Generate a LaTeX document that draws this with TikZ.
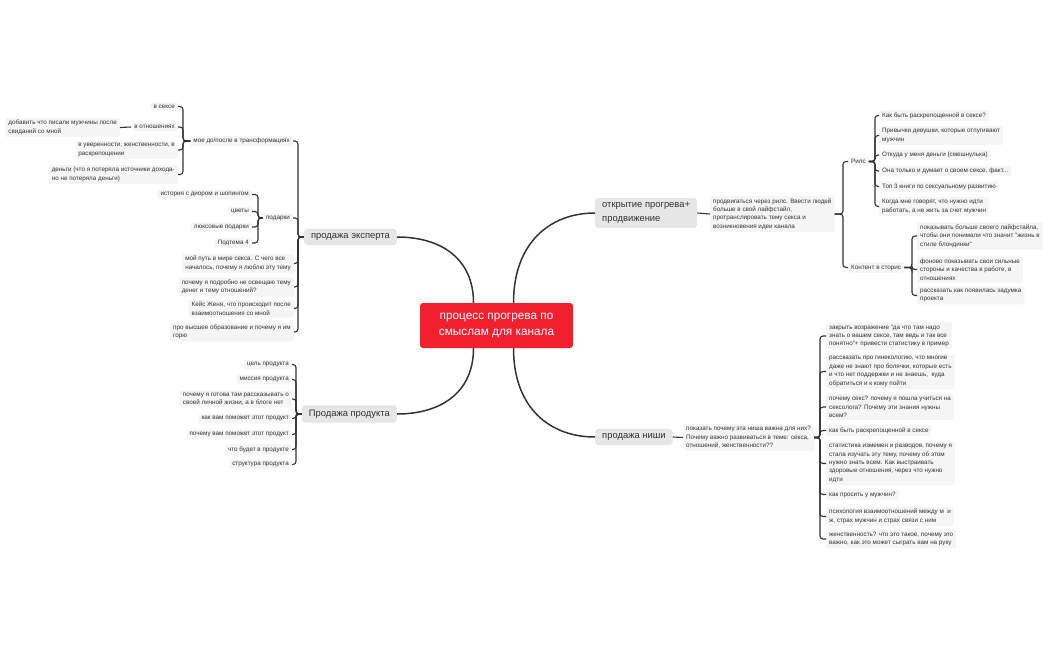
\documentclass[tikz,border=0pt]{standalone}
\usepackage{fontspec}
\setmainfont{Liberation Sans}
\usetikzlibrary{calc}
\definecolor{txt}{HTML}{333333}
\definecolor{lnc}{HTML}{333333}
\definecolor{sfill}{HTML}{F5F5F5}
\definecolor{bfill}{HTML}{E6E6E6}
\definecolor{cred}{HTML}{F2202F}
\begin{document}
\begin{tikzpicture}[x=1pt,y=-1pt,
 sm/.style={fill=sfill, rounded corners=2pt, inner xsep=3pt, inner ysep=2.3pt, text=txt, font=\fontsize{6.3}{8.4}\selectfont, align=left},
 smr/.style={sm, anchor=east},
 sml/.style={sm, anchor=west},
 br/.style={fill=bfill, rounded corners=3pt, inner xsep=7pt, inner ysep=4.5pt, text=txt, font=\fontsize{9.4}{13.5}\selectfont, align=left},
 conn/.style={draw=lnc, line width=1.1pt, rounded corners=3pt},
 mainc/.style={draw=lnc, line width=1.5pt},
]
\useasboundingbox[fill=white] (0,0) rectangle (1050,650);

% central
\node[fill=cred, rounded corners=3pt, text=white, font=\fontsize{11.8}{16}\selectfont, align=center, minimum width=153pt, minimum height=45pt] (cen) at (496.5,325.5) {процесс прогрева по\\смыслам для канала};

% branches
\node[br, anchor=east] (eksp) at (397,237) {продажа эксперта};
\node[br, anchor=east] (prod) at (397,414) {Продажа продукта};
\node[br, anchor=west] (otkr) at (595,213) {открытие прогрева+\\продвижение};
\node[br, anchor=west] (nish) at (595,437) {продажа ниши};

\draw[mainc] ($(cen.north)+(-23,0)$) .. controls ($(cen.north)+(-23,-45)$) and (440,237) .. (eksp.east);
\draw[mainc] ($(cen.north)+(17,0)$) .. controls ($(cen.north)+(17,-60)$) and (550,213) .. (otkr.west);
\draw[mainc] ($(cen.south)+(-23,0)$) .. controls ($(cen.south)+(-23,45)$) and (440,414) .. (prod.east);
\draw[mainc] ($(cen.south)+(17,0)$) .. controls ($(cen.south)+(17,60)$) and (550,437) .. (nish.west);

% --- продажа эксперта
\node[smr] (mydo) at (293,141) {мое до/после в трансформациях};
\node[smr] (podar) at (293,218) {подарки};
\node[smr] (put) at (294,263.5) {мой путь в мире секса. С чего все\\началось, почему я люблю эту тему};
\node[smr] (pochemu) at (294,287) {почему я подробно не освещаю тему\\денег и тему отношений?};
\node[smr] (keis) at (294,308.5) {Кейс Женя, что происходит после\\взаимоотношения со мной};
\node[smr] (vysh) at (294,332) {про высшее образование и почему я им\\горю};
\foreach \c in {mydo,podar,put,pochemu,keis,vysh}
  \draw[conn] (eksp.west) -- (298,237) |- (\c.east);

\node[smr] (vs) at (178,106.5) {в сексе};
\node[smr] (vo) at (178,127) {в отношениях};
\node[smr] (vu) at (178,150) {в уверенности, женственности, в\\раскрепощении};
\node[smr] (den) at (178,174.5) {деньги (что я потеряла источники дохода-\\но не потеряла деньги)};
\node[smr] (dob) at (120,127.5) {добавить что писали мужчины после\\свиданий со мной};
\foreach \c in {vs,vo,vu,den}
  \draw[conn] (mydo.west) -- (183,141) |- (\c.east);
\draw[conn] (vo.west) -- (dob.east);

\node[smr] (ist) at (252,194.5) {история с диором и шопингом};
\node[smr] (cv) at (252,211.5) {цветы};
\node[smr] (lux) at (252,227) {люксовые подарки};
\node[smr] (pt4) at (252,243) {Подтема 4};
\foreach \c in {ist,cv,lux,pt4}
  \draw[conn] (podar.west) -- (258,218) |- (\c.east);

% --- Продажа продукта
\node[smr] (c1) at (292,364.5) {цель продукта};
\node[smr] (c2) at (292,379.5) {миссия продукта};
\node[smr] (c3) at (292,399) {почему я готова там рассказывать о\\своей личной жизни, а в блоге нет};
\node[smr] (c4) at (292,418.5) {как вам поможет этот продукт};
\node[smr] (c5) at (292,434.5) {почему вам поможет этот продукт};
\node[smr] (c6) at (292,449.5) {что будет в продукте};
\node[smr] (c7) at (292,464.5) {структура продукта};
\foreach \c in {c1,c2,c3,c4,c5,c6,c7}
  \draw[conn] (prod.west) -- (296,414) |- (\c.east);

% --- открытие прогрева
\node[sml] (prodv) at (710,214) {продвигаться через рилс. Ввести людей\\больше в свой лайфстайл,\\протранслировать тему секса и\\возникновения идеи канала};
\draw[conn] (otkr.east) -- (prodv.west);
\node[sml] (rils) at (848,161.5) {Рилс};
\node[sml] (stor) at (848,267.5) {Контент в сторис};
\foreach \c in {rils,stor}
  \draw[conn] (prodv.east) -- (843,214) |- (\c.west);

\node[sml] (r1) at (879,115.5) {Как быть раскрепощенной в сексе?};
\node[sml] (r2) at (879,135.5) {Привычки девушки, которые отпугивают\\мужчин};
\node[sml] (r3) at (879,155) {Откуда у меня деньги (смешнулька)};
\node[sml] (r4) at (879,171) {Она только и думает о своем сексе, факт...};
\node[sml] (r5) at (879,186.5) {Топ 3 книги по сексуальному развитию};
\node[sml] (r6) at (879,206.5) {Когда мне говорят, что нужно идти\\работать, а не жить за счет мужчин};
\foreach \c in {r1,r2,r3,r4,r5,r6}
  \draw[conn] (rils.east) -- (875,161.5) |- (\c.west);

\node[sml] (s1) at (917,236) {показывать больше своего лайфстайла,\\чтобы они понимали что значит "жизнь в\\стиле блондинки"};
\node[sml] (s2) at (917,269.5) {фоново показывать свои сильные\\стороны и качества в работе, в\\отношениях};
\node[sml] (s3) at (917,295.5) {рассказать как появилась задумка\\проекта};
\foreach \c in {s1,s2,s3}
  \draw[conn] (stor.east) -- (912,267.5) |- (\c.west);

% --- продажа ниши
\node[sml] (pok) at (683,437.5) {показать почему эта ниша важна для них?\\Почему важно развиваться в теме: секса,\\отношений, женственности??};
\draw[conn] (nish.east) -- (pok.west);

\node[sml] (n1) at (826,336) {закрыть возражение "да что там надо\\знать о вашем сексе, там ведь и так все\\понятно"+ привести статистику в пример};
\node[sml] (n2) at (826,371.5) {рассказать про гинекологию, что многие\\даже не знают про болячки, которые есть\\и что нет поддержки и не знаешь,~ куда\\обратиться и к кому пойти};
\node[sml] (n3) at (826,407) {почему секс? почему я пошла учиться на\\сексолога? Почему эти знания нужны\\всем?};
\node[sml] (n4) at (826,430.5) {как быть раскрепощенной в сексе};
\node[sml] (n5) at (826,463.5) {статистика измемен и разводов, почему я\\стала изучать эту тему, почему об этом\\нужно знать всем. Как выстраивать\\здоровые отношения, через что нужно\\идти};
\node[sml] (n6) at (826,494.5) {как просить у мужчин?};
\node[sml] (n7) at (826,516.5) {психология взаимоотношений между м~ и\\ж, страх мужчин и страх связи с ним};
\node[sml] (n8) at (826,539) {женственность? что это такое, почему это\\важно, как это может сыграть вам на руку};
\foreach \c in {n1,n2,n3,n4,n5,n6,n7,n8}
  \draw[conn] (pok.east) -- (820,437.5) |- (\c.west);

\end{tikzpicture}
\end{document}
